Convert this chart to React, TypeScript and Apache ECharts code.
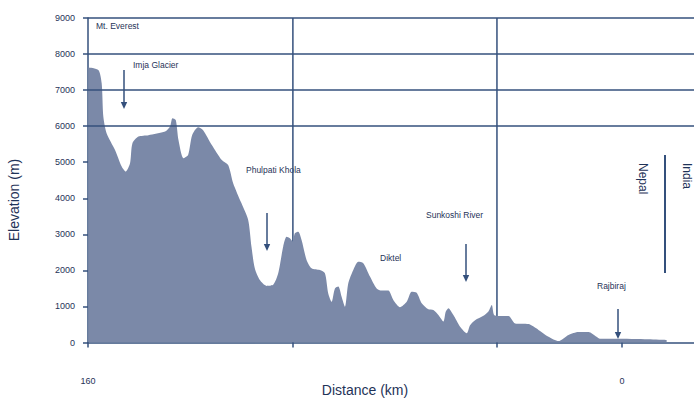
import React, { useEffect, useRef } from "react";
import * as echarts from "echarts";

// Distance from the plains (km) and elevation (m) along the profile
const distanceKm = [
  159.9, 156.9, 155.9, 155.4, 154.4, 151.9, 149.9, 148.7, 147.4, 146.7, 144.9, 141.9, 136.9, 135.4, 134.7,
  133.7, 132.9, 131.4, 130.0, 128.8, 127.0, 125.5, 122.9, 119.9, 118.0, 116.5, 114.0, 112.0, 111.0, 110.0,
  108.5, 106.5, 104.5, 103.0, 101.5, 100.5, 99.5, 98.7, 98.0, 97.0, 96.0, 94.5, 93.0, 90.5, 89.0,
  88.0, 87.0, 86.0, 85.0, 84.0, 83.0, 82.0, 80.5, 79.0, 77.5, 75.5, 73.5, 72.0, 70.0, 68.5,
  66.5, 64.5, 63.0, 61.5, 60.0, 58.0, 56.5, 55.0, 53.5, 52.8, 52.0, 50.5, 48.5, 46.5, 45.5,
  44.0, 41.5, 40.0, 39.0, 38.3, 37.0, 34.0, 32.0, 28.0, 25.0, 22.0, 19.0, 16.0, 13.0, 10.0,
  7.6, 6.6, 2.1, -7.9, -13.4,
];
const elevationM = [
  7630, 7560, 7190, 6260, 5800, 5340, 4880, 4740, 4970, 5520, 5710, 5750, 5850, 5990, 6220,
  6170, 5620, 5110, 5200, 5750, 5970, 5890, 5480, 5060, 4920, 4420, 3860, 3400, 2650, 2050,
  1730, 1570, 1600, 1920, 2660, 2930, 2890, 2800, 3030, 3070, 2840, 2290, 2060, 2010, 1920,
  1360, 1130, 1500, 1550, 1270, 990, 1640, 2010, 2240, 2200, 1830, 1500, 1440, 1440, 1180,
  980, 1130, 1410, 1380, 1090, 920, 900, 760, 580, 850, 950, 760, 440, 260, 480,
  620, 740, 860, 1040, 760, 735, 735, 530, 510, 350, 160, 40, 210, 290, 290,
  160, 105, 105, 90, 70,
];

// Axis ticks, labels and reference lines
const yTicks = [0, 1000, 2000, 3000, 4000, 5000, 6000, 7000, 8000, 9000];
const xTickKm = [160, 98.6, 37.45, 0];
const xLabelKm = [160, 0];
const dividerKm = [98.6, 37.45];
const gridLineElev = [6000, 7000, 8000, 9000];

const INK = "#1f3358";
const LINE = "#34507c";
const FILL = "#7b89a8";
const FONT = "'Liberation Sans', Arial, sans-serif";

function arrow(x: number, y1: number, y2: number) {
  return [
    { type: "line", shape: { x1: x, y1, x2: x, y2: y2 - 6 }, style: { stroke: LINE, lineWidth: 1.5 } },
    {
      type: "polygon",
      shape: { points: [[x - 3.2, y2 - 7], [x + 3.2, y2 - 7], [x, y2]] },
      style: { fill: LINE },
    },
  ];
}

function label(text: string, x: number, y: number, size = 9) {
  return {
    type: "text",
    x,
    y,
    style: { text, fill: INK, font: `${size}px ${FONT}`, textVerticalAlign: "middle" },
  };
}

export default function App() {
  const ref = useRef<HTMLDivElement>(null);

  useEffect(() => {
    if (!ref.current) return;
    const chart = echarts.init(ref.current, undefined, { renderer: "svg" });
    const data = distanceKm.map((d, i) => [d, elevationM[i]]);

    const dividers = dividerKm.map((km) => ({
      type: "line",
      data: [
        [km, 0],
        [km, 9000],
      ],
      symbol: "none",
      silent: true,
      z: 1,
      lineStyle: { color: LINE, width: 1.5 },
    }));

    chart.setOption({
      animation: false,
      grid: { left: 88, right: 0, top: 18, bottom: 57.5 },
      xAxis: {
        type: "value",
        inverse: true,
        min: -21.6,
        max: 160,
        axisLine: { show: true, onZero: false, lineStyle: { color: LINE, width: 1.5 } },
        axisTick: { show: true, length: 5, customValues: xTickKm, lineStyle: { color: LINE, width: 1.5 } },
        axisLabel: {
          customValues: xLabelKm,
          margin: 34,
          fontSize: 9,
          color: INK,
          fontFamily: FONT,
          formatter: (v: number) => String(v),
        },
        splitLine: { show: false },
      },
      yAxis: {
        type: "value",
        min: 0,
        max: 9000,
        interval: 1000,
        axisLine: { show: true, onZero: false, lineStyle: { color: LINE, width: 1.5 } },
        axisTick: { show: true, length: 5, customValues: yTicks, lineStyle: { color: LINE, width: 1.5 } },
        axisLabel: {
          customValues: yTicks,
          margin: 13,
          fontSize: 9,
          color: INK,
          fontFamily: FONT,
          formatter: (v: number) => String(v),
        },
        splitLine: { show: false },
      },
      series: [
        ...dividers,
        {
          type: "line",
          data,
          smooth: 0.25,
          symbol: "none",
          z: 3,
          lineStyle: { width: 0 },
          areaStyle: { color: FILL, opacity: 1 },
          markLine: {
            silent: true,
            symbol: ["none", "none"],
            label: { show: false },
            lineStyle: { color: LINE, width: 1.5, type: "solid" },
            data: gridLineElev.map((v) => ({ yAxis: v })),
          },
        },
      ],
      graphic: [
        label("Mt. Everest", 96, 26, 8.5),
        label("Imja Glacier", 133, 65, 8.5),
        ...arrow(124, 70, 109),
        label("Phulpati Khola", 246, 170, 8.5),
        ...arrow(267, 213, 251),
        label("Diktel", 380, 258, 8.5),
        label("Sunkoshi River", 426, 215, 8.5),
        ...arrow(466, 244, 282),
        label("Rajbiraj", 597, 286, 8.5),
        ...arrow(618, 309, 339),
        {
          type: "text",
          x: 643,
          y: 163,
          rotation: -Math.PI / 2,
          style: { text: "Nepal", fill: INK, font: `12px ${FONT}`, textVerticalAlign: "middle" },
        },
        {
          type: "text",
          x: 687,
          y: 163,
          rotation: -Math.PI / 2,
          style: { text: "India", fill: INK, font: `12px ${FONT}`, textVerticalAlign: "middle" },
        },
        { type: "line", shape: { x1: 665, y1: 155, x2: 665, y2: 273 }, style: { stroke: LINE, lineWidth: 2 } },
        {
          type: "text",
          x: 14,
          y: 200,
          rotation: Math.PI / 2,
          style: {
            text: "Elevation (m)",
            fill: INK,
            font: `14px ${FONT}`,
            textAlign: "center",
            textVerticalAlign: "middle",
          },
        },
        {
          type: "text",
          x: 365,
          y: 390,
          style: {
            text: "Distance (km)",
            fill: INK,
            font: `14px ${FONT}`,
            textAlign: "center",
            textVerticalAlign: "middle",
          },
        },
      ],
    });
    return () => chart.dispose();
  }, []);

  return <div ref={ref} style={{ width: 694, height: 400, position: "absolute", left: 0, top: 0 }} />;
}
